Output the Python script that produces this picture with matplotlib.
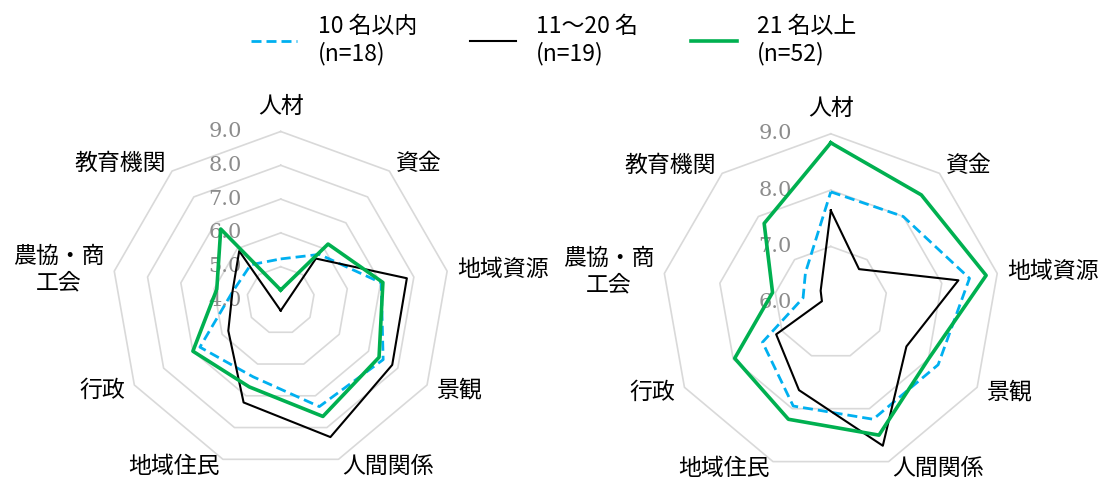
import numpy as np
import matplotlib
matplotlib.use('Agg')
import matplotlib.pyplot as plt
from matplotlib.lines import Line2D

plt.rcParams['font.family'] = ['Noto Sans CJK JP', 'DejaVu Sans']

# ---------------- data ----------------
categories = ['人材', '資金', '地域資源', '景観', '人間関係', '地域住民', '行政',
              '農協・商\n工会', '教育機関']
series_labels = ['10 名以内\n(n=18)', '11〜20 名\n(n=19)', '21 名以上\n(n=52)']

left_small = [5.23, 5.78, 7.02, 7.50, 7.34, 6.40, 6.76, 5.45, 5.38]
left_mid = [3.70, 5.62, 7.79, 7.81, 8.30, 7.21, 5.79, 5.45, 5.91]
left_large = [4.31, 6.18, 7.07, 7.36, 7.65, 6.72, 7.00, 5.92, 6.76]

right_small = [7.97, 8.00, 8.50, 8.20, 8.20, 7.95, 7.40, 6.50, 6.70]
right_mid = [7.64, 6.78, 8.30, 7.55, 8.70, 7.65, 7.12, 6.16, 6.28]
right_large = [8.84, 8.50, 8.80, 8.00, 8.50, 8.20, 7.97, 7.05, 7.84]

left_range = (4.0, 9.0)
right_range = (6.0, 9.0)

# ---------------- styles ----------------
styles = [
    dict(color='#00b0f0', lw=2.0, ls=(0, (3.6, 1.8)), dash_capstyle='butt'),
    dict(color='#000000', lw=1.5, ls='-'),
    dict(color='#00b050', lw=2.6, ls='-'),
]
GRID = '#d9d9d9'
TICK = '#8c8c8c'
LABEL_FS = 16.5
TICK_FS = 15

W, H = 1098, 478
fig = plt.figure(figsize=(W / 100, H / 100), dpi=100)

LIM = 1.65
UNIT = 169.0  # pixels per outer radius
BOX = 2 * LIM * UNIT


def make_axes(cx, cy_top):
    cy = H - cy_top
    ax = fig.add_axes([(cx - BOX / 2) / W, (cy - BOX / 2) / H, BOX / W, BOX / H])
    ax.set_xlim(-LIM, LIM)
    ax.set_ylim(-LIM, LIM)
    ax.axis('off')
    return ax


def closed(xs, ys):
    return np.append(xs, xs[0]), np.append(ys, ys[0])


def radar(ax, series, vmin, vmax):
    n = len(categories)
    ang = np.arange(n) * 2 * np.pi / n
    sx, sy = np.sin(ang), np.cos(ang)
    span = vmax - vmin
    levels = np.arange(vmin, vmax + 1e-6, 1.0)
    for lv in levels[1:]:
        r = (lv - vmin) / span
        ax.plot(*closed(r * sx, r * sy), color=GRID, lw=1.2, zorder=1, clip_on=False)
    for lv in levels:
        r = (lv - vmin) / span
        ax.text(-0.33, r, f'{lv:.1f}', ha='center', va='center', color=TICK,
                fontsize=TICK_FS, family='DejaVu Serif', zorder=2)
    for vals, st in zip(series, styles):
        r = (np.asarray(vals) - vmin) / span
        ax.plot(*closed(r * sx, r * sy), zorder=3, clip_on=False, **st)
    for i, lab in enumerate(categories):
        a = ang[i]
        if i == 0:
            ax.text(0, 1.08, lab, ha='center', va='bottom', fontsize=LABEL_FS)
            continue
        rr = 1.06
        x, y = rr * np.sin(a), rr * np.cos(a)
        if i in (4, 5):
            y += 0.015
        ha = 'left' if np.sin(a) > 0 else 'right'
        ax.text(x, y, lab, ha=ha, va='center', fontsize=LABEL_FS,
                multialignment='center', linespacing=1.2)


axL = make_axes(280.7, 300.5)
radar(axL, [left_small, left_mid, left_large], *left_range)
axR = make_axes(830.8, 302.8)
radar(axR, [right_small, right_mid, right_large], *right_range)

handles = [Line2D([], [], **st) for st in styles]
fig.legend(handles, series_labels, loc='center', bbox_to_anchor=(554 / W, 1 - 40 / H),
           ncol=3, frameon=False, fontsize=LABEL_FS, handlelength=2.0,
           handletextpad=0.9, columnspacing=2.3)

fig.savefig('out.png', dpi=100)
